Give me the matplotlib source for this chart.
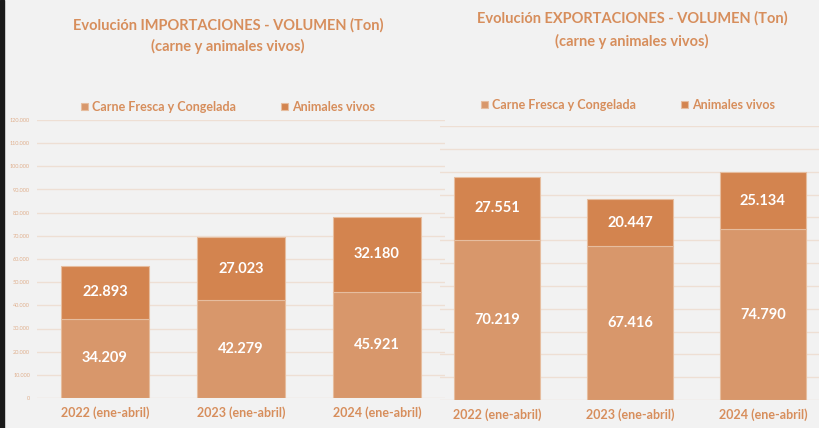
import matplotlib
matplotlib.use("Agg")
import matplotlib.pyplot as plt
import numpy as np

# datos (toneladas)
periodos = ["2022 (ene-abril)", "2023 (ene-abril)", "2024 (ene-abril)"]
imp_carne = [34209, 42279, 45921]
imp_vivos = [22893, 27023, 32180]
exp_carne = [70219, 67416, 74790]
exp_vivos = [27551, 20447, 25134]
y_ticks = [0, 10000, 20000, 30000, 40000, 50000, 60000, 70000, 80000, 90000, 100000, 110000, 120000]

BG = "#F2F2F2"
C_CARNE = "#D8976B"
C_VIVOS = "#D3844F"
TXT = "#D78E5C"
GRID = "#EEDFD4"

plt.rcParams["font.family"] = ["Lato", "DejaVu Sans"]

W, H = 820, 428
fig = plt.figure(figsize=(W / 100, H / 100), dpi=100, facecolor=BG)


def px_axes(x0, y_top, x1, y_bot):
    return fig.add_axes([x0 / W, 1 - y_bot / H, (x1 - x0) / W, (y_bot - y_top) / H])


def fmt(v):
    return f"{v:,}".replace(",", ".")


def panel(ax, carne, vivos, xlim, show_labels):
    ax.set_facecolor("none")
    x = np.arange(len(periodos))
    b1 = ax.bar(x, carne, width=0.65, color=C_CARNE, edgecolor="#E6BD9F", linewidth=0.8, zorder=3)
    b2 = ax.bar(x, vivos, width=0.65, bottom=carne, color=C_VIVOS, edgecolor="#E6BD9F",
                linewidth=0.8, zorder=3)
    for i in range(len(x)):
        ax.text(x[i], carne[i] / 2, fmt(carne[i]), ha="center", va="center", color="white",
                fontsize=10.5, fontweight="bold", zorder=4)
        ax.text(x[i], carne[i] + vivos[i] / 2, fmt(vivos[i]), ha="center", va="center",
                color="white", fontsize=10.5, fontweight="bold", zorder=4)
    ax.set_ylim(0, 120000)
    ax.set_xlim(*xlim)
    ax.set_yticks(y_ticks)
    ax.yaxis.grid(True, color=GRID, linewidth=1, zorder=0)
    ax.set_axisbelow(True)
    if show_labels:
        ax.set_yticklabels([fmt(t) for t in y_ticks], fontsize=4, color="#E0B08E")
    else:
        ax.set_yticklabels([])
    ax.tick_params(axis="y", length=0, pad=5)
    ax.set_xticks(x)
    ax.set_xticklabels(periodos, fontsize=9, fontweight="bold", color=TXT)
    ax.tick_params(axis="x", length=0, pad=6)
    for s in ax.spines.values():
        s.set_visible(False)
    return b1, b2


ax1 = px_axes(37, 120, 445, 398)
h1 = panel(ax1, imp_carne, imp_vivos, (-0.5, 2.5), True)
ax2 = px_axes(440, 126, 820, 400)
h2 = panel(ax2, exp_carne, exp_vivos, (-0.43, 2.43), False)

fig.text(228 / W, 1 - 25 / H, "Evolución IMPORTACIONES - VOLUMEN (Ton)", ha="center", va="center",
         fontsize=10.5, fontweight="bold", color=TXT)
fig.text(228 / W, 1 - 46 / H, "(carne y animales vivos)", ha="center", va="center",
         fontsize=10.5, fontweight="bold", color=TXT)
fig.text(632 / W, 1 - 18 / H, "Evolución EXPORTACIONES - VOLUMEN (Ton)", ha="center", va="center",
         fontsize=10.5, fontweight="bold", color=TXT)
fig.text(632 / W, 1 - 41 / H, "(carne y animales vivos)", ha="center", va="center",
         fontsize=10.5, fontweight="bold", color=TXT)

labels = ["Carne Fresca y Congelada", "Animales vivos"]
for handles, cx, cy in [(h1, 228, 107), (h2, 628, 105)]:
    fig.legend(handles, labels, loc="center", bbox_to_anchor=(cx / W, 1 - cy / H),
               ncol=2, frameon=False, prop={"size": 9, "weight": "bold"}, labelcolor=TXT,
               handlelength=0.55, handleheight=0.55, handletextpad=0.3, columnspacing=3.6)

# borde oscuro a la izquierda
fig.patches.append(plt.Rectangle((0, 0), 4 / W, 1, transform=fig.transFigure,
                                 color="#1A1A1A", zorder=0))

fig.savefig("out.png", dpi=100, facecolor=BG)
